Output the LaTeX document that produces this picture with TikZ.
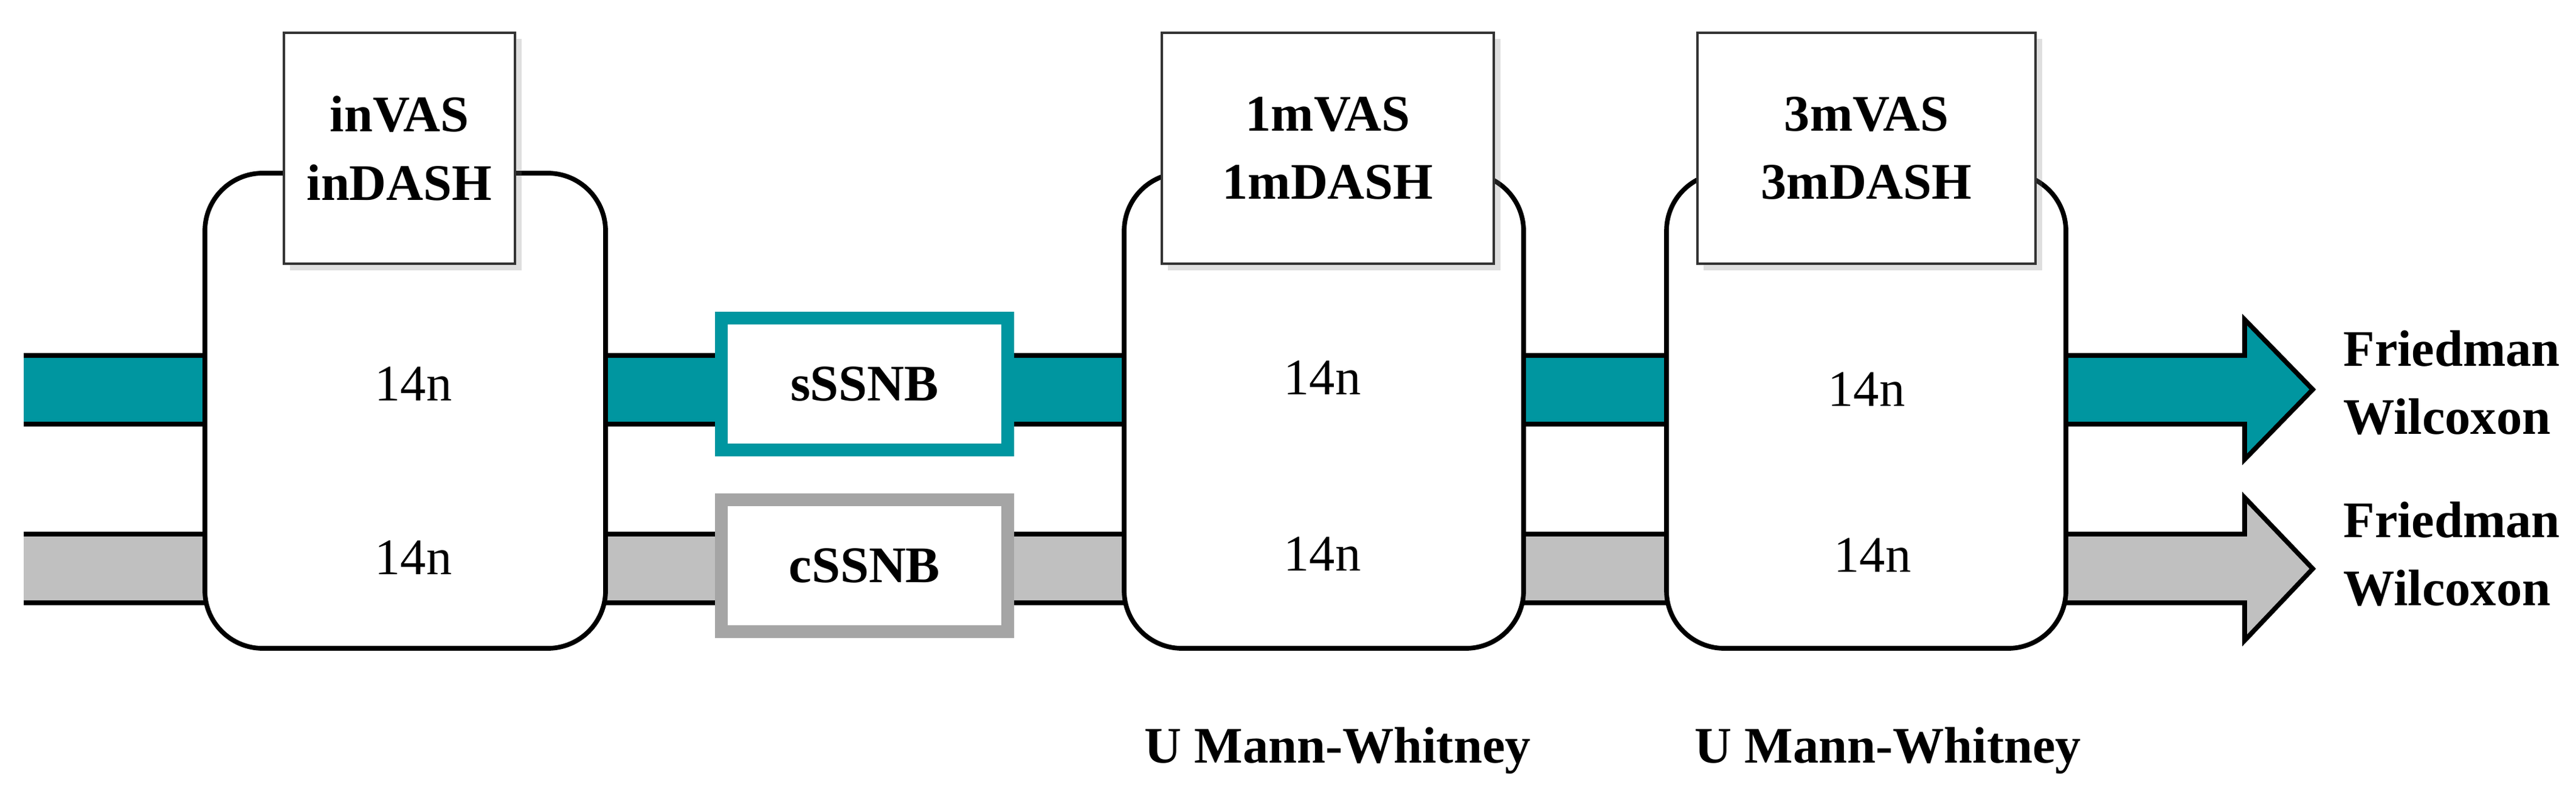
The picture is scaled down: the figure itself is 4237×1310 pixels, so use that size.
\documentclass[tikz,border=0pt]{standalone}
\usepackage{fontspec}
\setmainfont{Liberation Serif}
\usetikzlibrary{shadows}
\definecolor{teal1}{RGB}{0,150,160}
\definecolor{gray1}{RGB}{192,192,192}
\definecolor{gray2}{RGB}{165,165,165}
\begin{document}
\begin{tikzpicture}[x=0.01cm,y=-0.01cm,
  stage/.style={draw=black,line width=2.2pt,fill=white,rounded corners=0.95cm},
  lbl/.style={draw=black!80,line width=1.2pt,fill=white,drop shadow={shadow xshift=3pt,shadow yshift=-3pt,opacity=0.25},align=center,font=\fontsize{24}{32}\selectfont\bfseries},
  num/.style={font=\fontsize{24}{29}\selectfont},
  bold/.style={font=\fontsize{24}{32}\selectfont\bfseries,align=left,anchor=west},
  arr/.style={draw=black,line width=2.2pt,line join=miter}]
\useasboundingbox (0,0) rectangle (4237,1310);
% arrows
\fill[teal1] (39,585) -- (3692,585) -- (3692,526) -- (3804,641) -- (3692,756) -- (3692,698) -- (39,698) -- cycle;
\draw[arr] (39,585) -- (3692,585) -- (3692,526) -- (3804,641) -- (3692,756) -- (3692,698) -- (39,698);
\fill[gray1] (39,879) -- (3692,879) -- (3692,819) -- (3804,936) -- (3692,1054) -- (3692,992) -- (39,992) -- cycle;
\draw[arr] (39,879) -- (3692,879) -- (3692,819) -- (3804,936) -- (3692,1054) -- (3692,992) -- (39,992);
% stages
\draw[stage] (337,285) rectangle (996,1067);
\draw[stage] (1849,285) rectangle (2506,1067);
\draw[stage] (2741,285) rectangle (3398,1067);
% labels
\node[lbl,minimum width=3.8cm,minimum height=3.8cm] (l1) at (657,244) {inVAS\\inDASH};
\node[lbl,minimum width=5.46cm,minimum height=3.8cm] (l2) at (2184,244) {1mVAS\\1mDASH};
\node[lbl,minimum width=5.56cm,minimum height=3.8cm] (l3) at (3070,244) {3mVAS\\3mDASH};
\node[num] (a1) at (680,632) {14n};
\node[num] (b1) at (680,918) {14n};
\node[num] (a2) at (2175,622) {14n};
\node[num] (b2) at (2175,912) {14n};
\node[num] (a3) at (3070,641) {14n};
\node[num] (b3) at (3080,914) {14n};
% treatment boxes
\node[draw=teal1,line width=6pt,fill=white,minimum width=4.7cm,minimum height=2.16cm,font=\fontsize{24}{29}\selectfont\bfseries] (s) at (1422,632) {sSSNB};
\node[draw=gray2,line width=6pt,fill=white,minimum width=4.7cm,minimum height=2.16cm,font=\fontsize{24}{29}\selectfont\bfseries,drop shadow={shadow xshift=2pt,shadow yshift=-2pt,opacity=0.2}] (c) at (1422,931) {cSSNB};
% texts
\node[bold] (f1) at (3842,630) {Friedman\\Wilcoxon};
\node[bold] (f2) at (3842,912) {Friedman\\Wilcoxon};
\node[font=\fontsize{24}{29}\selectfont\bfseries] (u1) at (2200,1235) {U Mann-Whitney};
\node[font=\fontsize{24}{29}\selectfont\bfseries] (u2) at (3105,1235) {U Mann-Whitney};
\end{tikzpicture}
\end{document}
